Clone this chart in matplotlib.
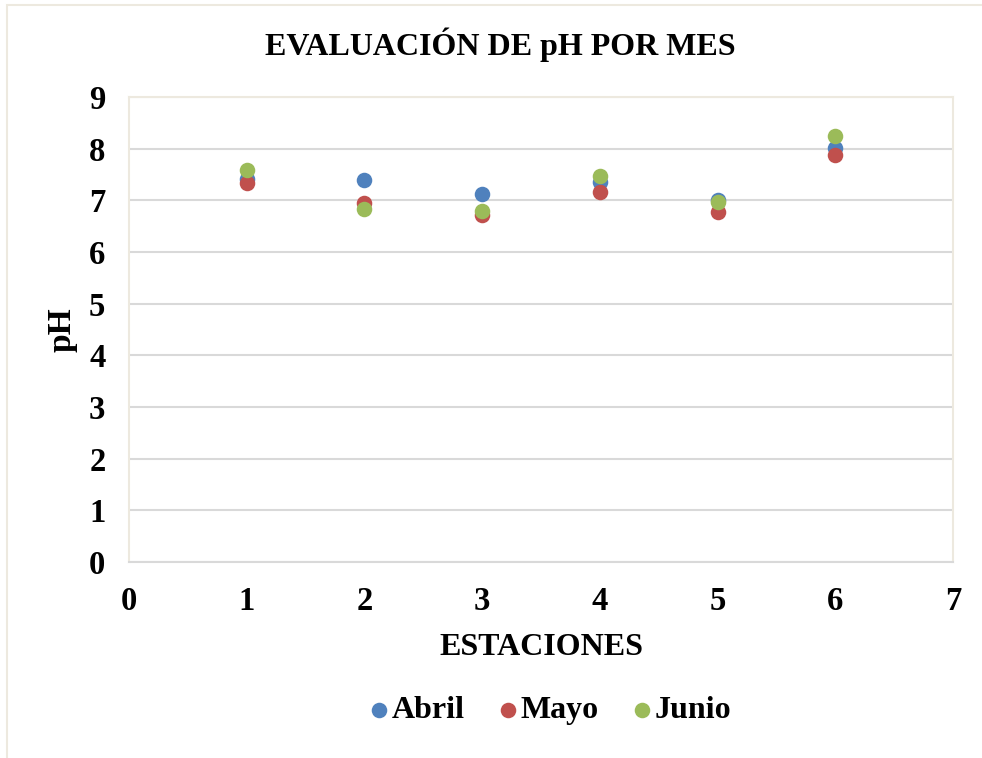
import matplotlib.pyplot as plt
from matplotlib.patches import Rectangle

# pH medido por estación y mes
estaciones = [1, 2, 3, 4, 5, 6]
ph_abril = [7.42, 7.40, 7.12, 7.35, 7.01, 8.02]
ph_mayo = [7.33, 6.94, 6.72, 7.16, 6.77, 7.87]
ph_junio = [7.58, 6.84, 6.80, 7.47, 6.97, 8.24]

series = [("Abril", ph_abril, "#4F81BD"),
          ("Mayo", ph_mayo, "#C0504D"),
          ("Junio", ph_junio, "#9BBB59")]

plt.rcParams['font.family'] = ['Liberation Serif', 'DejaVu Serif']
plt.rcParams['font.weight'] = 'bold'

fig = plt.figure(figsize=(9.82, 7.58), dpi=100)
ax = fig.add_axes([0.1314, 0.2586, 0.8391, 0.6134])

# marco exterior del gráfico
fig.patches.append(Rectangle((7 / 982, -0.05), 1.2, 1 - 5 / 758 + 0.05,
                             transform=fig.transFigure, fill=False,
                             edgecolor="#EDE9DF", linewidth=1.5))

for nombre, valores, color in series:
    ax.scatter(estaciones, valores, s=125, color=color, label=nombre,
               zorder=3, linewidths=0)

ax.set_xlim(0, 7)
ax.set_ylim(0, 9)
ax.set_xticks(range(0, 8))
ax.set_yticks(range(0, 10))
ax.grid(axis='y', color="#D9D9D9", linewidth=1.5)
ax.set_axisbelow(True)
for lado in ax.spines.values():
    lado.set_color("#EDE9DF")
    lado.set_linewidth(1.5)
ax.spines['bottom'].set_color("#D9D9D9")
ax.tick_params(length=0, labelsize=23.5, pad=17)
for lbl in ax.get_xticklabels() + ax.get_yticklabels():
    lbl.set_fontweight('bold')

fig.text(500 / 982, 1 - 45 / 758, "EVALUACIÓN DE pH POR MES", fontsize=23,
         fontweight='bold', ha='center', va='center')
ax.set_xlabel("ESTACIONES", fontsize=23, fontweight='bold', labelpad=12)
ax.set_ylabel("pH", fontsize=24, fontweight='bold', labelpad=8)

ax.legend(loc='center', bbox_to_anchor=(0.511, -0.32), ncol=3,
          frameon=False, prop={'size': 23, 'weight': 'bold'},
          handlelength=0.6, handletextpad=0.1, columnspacing=1.05,
          markerscale=1.0)

fig.savefig("out.png", dpi=100)
